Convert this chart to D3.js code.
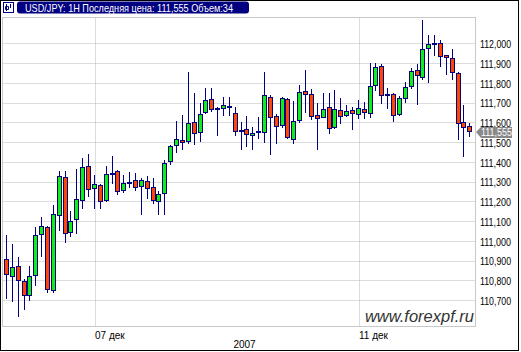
<!DOCTYPE html>
<html>
<head>
<meta charset="utf-8">
<script src="https://cdn.jsdelivr.net/npm/d3@7/dist/d3.min.js"></script>
<style>
  body { margin: 0; background: #fff; }
  svg { display: block; }
</style>
</head>
<body>
<div id="chart"></div>
<script>
// USD/JPY hourly candles (first one is cut by the left edge)
var opens = [110.844, 110.908, 110.823, 110.871, 110.795, 110.724, 110.825, 111.033, 111.068, 110.749,
  111.129, 111.322, 111.045, 111.109, 111.205, 111.377, 111.266, 111.281, 111.205, 111.340,
  111.353, 111.259, 111.294, 111.306, 111.276, 111.303, 111.271, 111.200, 111.241, 111.403,
  111.484, 111.510, 111.504, 111.600, 111.549, 111.652, 111.716, 111.673, 111.671, 111.676,
  111.647, 111.558, 111.565, 111.534, 111.551, 111.549, 111.730, 111.630, 111.585, 111.718,
  111.514, 111.610, 111.757, 111.745, 111.635, 111.627, 111.676, 111.575, 111.661, 111.635,
  111.661, 111.642, 111.666, 111.646, 111.787, 111.884, 111.743, 111.745, 111.641, 111.722,
  111.782, 111.863, 111.829, 111.975, 111.995, 112.000, 111.939, 111.924, 111.848, 111.600,
  111.580];
var highs = [110.953, 111.028, 110.984, 110.918, 110.805, 110.872, 111.068, 111.121, 111.077, 111.183,
  111.353, 111.353, 111.151, 111.362, 111.418, 111.438, 111.333, 111.288, 111.379, 111.429,
  111.356, 111.332, 111.347, 111.343, 111.316, 111.327, 111.318, 111.252, 111.409, 111.484,
  111.607, 111.637, 111.855, 111.748, 111.699, 111.772, 111.772, 111.676, 111.728, 111.728,
  111.678, 111.602, 111.630, 111.576, 111.627, 111.855, 111.738, 111.641, 111.728, 111.723,
  111.708, 111.789, 111.865, 111.769, 111.696, 111.747, 111.747, 111.762, 111.722, 111.686,
  111.676, 111.711, 111.701, 111.899, 111.899, 111.894, 111.772, 111.750, 111.732, 111.803,
  111.876, 111.894, 112.118, 112.041, 112.041, 112.015, 111.941, 111.970, 111.853, 111.689,
  111.595];
var lows = [110.802, 110.712, 110.697, 110.621, 110.656, 110.700, 110.778, 110.923, 110.739, 110.739,
  111.055, 110.996, 111.026, 111.038, 111.168, 111.228, 111.168, 111.168, 111.200, 111.294,
  111.239, 111.249, 111.272, 111.259, 111.136, 111.217, 111.190, 111.137, 111.136, 111.390,
  111.448, 111.465, 111.494, 111.492, 111.507, 111.646, 111.657, 111.536, 111.635, 111.635,
  111.537, 111.465, 111.482, 111.466, 111.522, 111.502, 111.441, 111.497, 111.575, 111.521,
  111.497, 111.603, 111.654, 111.618, 111.466, 111.625, 111.547, 111.573, 111.598, 111.633,
  111.565, 111.620, 111.622, 111.625, 111.762, 111.696, 111.671, 111.608, 111.637, 111.704,
  111.772, 111.694, 111.819, 111.806, 111.941, 111.884, 111.846, 111.821, 111.514, 111.431,
  111.531];
var closes = [110.917, 110.830, 110.866, 110.800, 110.724, 110.820, 111.028, 111.073, 110.755, 111.134,
  111.327, 111.040, 111.099, 111.210, 111.372, 111.261, 111.286, 111.200, 111.337, 111.345,
  111.254, 111.291, 111.299, 111.271, 111.306, 111.266, 111.207, 111.235, 111.392, 111.479,
  111.514, 111.499, 111.596, 111.544, 111.641, 111.711, 111.666, 111.670, 111.686, 111.681,
  111.554, 111.563, 111.539, 111.544, 111.556, 111.737, 111.625, 111.580, 111.722, 111.524,
  111.605, 111.752, 111.742, 111.630, 111.620, 111.666, 111.570, 111.666, 111.632, 111.657,
  111.646, 111.671, 111.651, 111.782, 111.878, 111.737, 111.738, 111.637, 111.725, 111.777,
  111.858, 111.838, 111.970, 111.995, 112.000, 111.934, 111.929, 111.853, 111.595, 111.575,
  111.555];

var yTicks = [110.7, 110.8, 110.9, 111.0, 111.1, 111.2, 111.3, 111.4, 111.5, 111.6, 111.7, 111.8, 111.9, 112.0];
var dayLabels = ["07 дек", "11 дек"];
var dayCandles = [16, 61];
var yearLabel = "2007";
var title = "USD/JPY: 1H Последняя цена: 111,555 Объем:34";
var lastPrice = 111.555;
var watermark = "www.forexpf.ru";

var W = 521, H = 352;
var plot = {left: 2.5, top: 17.5, right: 475.5, bottom: 326.5};
var GREEN = "#11ee11", RED = "#ff4500", NAVY = "#000080";

var svg = d3.select("#chart").append("svg")
    .attr("width", W)
    .attr("height", H)
    .style("font-family", "'Liberation Sans', Arial, sans-serif");

// outer black frame
svg.append("rect")
    .attr("x", 0.5).attr("y", 0.5)
    .attr("width", 518).attr("height", 350)
    .attr("fill", "#fff").attr("stroke", "#000");

var x = d3.scaleLinear().domain([0, opens.length - 1]).range([0.1, 469.3]);
var y = d3.scaleLinear().domain([110.7, 112.0]).range([300.05, 43.3]);

svg.append("clipPath").attr("id", "clip")
  .append("rect")
    .attr("x", plot.left + 0.5).attr("y", plot.top + 0.5)
    .attr("width", plot.right - plot.left - 1).attr("height", plot.bottom - plot.top - 1);

// grid
var grid = svg.append("g").attr("stroke", "#b8b8b8").attr("stroke-dasharray", "1,1");
grid.selectAll("line.h")
  .data(yTicks)
  .enter().append("line")
    .attr("x1", plot.left + 1).attr("x2", plot.right)
    .attr("y1", function(d) { return Math.round(y(d)) + 0.5; })
    .attr("y2", function(d) { return Math.round(y(d)) + 0.5; });
grid.selectAll("line.v")
  .data(dayCandles)
  .enter().append("line")
    .attr("y1", plot.top + 1).attr("y2", plot.bottom)
    .attr("x1", function(d) { return Math.round(x(d)) + 1.5; })
    .attr("x2", function(d) { return Math.round(x(d)) + 1.5; });

// plot frame
svg.append("rect")
    .attr("x", plot.left).attr("y", plot.top)
    .attr("width", plot.right - plot.left).attr("height", plot.bottom - plot.top)
    .attr("fill", "none").attr("stroke", "#c8c8c8");

// candles
var candles = svg.append("g").attr("clip-path", "url(#clip)")
  .selectAll("g")
  .data(opens.map(function(o, i) { return {i: i, o: o, h: highs[i], l: lows[i], c: closes[i]}; }))
  .enter().append("g");

candles.append("line")
    .attr("x1", function(d) { return Math.round(x(d.i)) + 0.5; })
    .attr("x2", function(d) { return Math.round(x(d.i)) + 0.5; })
    .attr("y1", function(d) { return Math.round(y(d.h)); })
    .attr("y2", function(d) { return Math.round(y(d.l)) + 1; })
    .attr("stroke", NAVY);

candles.append("rect")
    .attr("x", function(d) { return Math.round(x(d.i)) - 1.5; })
    .attr("y", function(d) { return Math.round(y(Math.max(d.o, d.c))) + 0.5; })
    .attr("width", 4)
    .attr("height", function(d) {
      var h = Math.round(y(Math.min(d.o, d.c))) - Math.round(y(Math.max(d.o, d.c)));
      return Math.max(h, 1);
    })
    .attr("fill", function(d) { return d.c >= d.o ? GREEN : RED; })
    .attr("stroke", NAVY);

// y axis on the right
var fmt = function(d) { return d3.format(".3f")(d).replace(".", ","); };
var yAxis = svg.append("g")
    .attr("transform", "translate(477,1)")
    .call(d3.axisRight(y).tickValues(yTicks).tickSize(0).tickPadding(3).tickFormat(fmt));
yAxis.select(".domain").remove();
yAxis.selectAll("text")
    .attr("fill", "#000")
    .attr("font-size", "10px")
    .attr("font-family", "'Liberation Sans', Arial, sans-serif")
    .attr("textLength", 31)
    .attr("lengthAdjust", "spacingAndGlyphs");

// last price tag
var ty = Math.round(y(lastPrice)) + 1;
svg.append("path")
    .attr("d", "M476," + ty + "L481," + (ty - 5) + "L512," + (ty - 5) + "L512," + (ty + 6) + "L481," + (ty + 6) + "Z")
    .attr("fill", "#888");
svg.append("text")
    .attr("x", 481).attr("y", ty + 4)
    .attr("fill", "#fff")
    .attr("font-size", "10px")
    .attr("textLength", 31)
    .attr("lengthAdjust", "spacingAndGlyphs")
    .text(fmt(lastPrice));

// x labels
svg.selectAll("text.day")
  .data(dayCandles)
  .enter().append("text")
    .attr("x", function(d) { return Math.round(x(d)) + 1; })
    .attr("y", 338.5)
    .attr("font-size", "10px")
    .attr("fill", "#000")
    .text(function(d, i) { return dayLabels[i]; });
svg.append("text")
    .attr("x", 244.5).attr("y", 347.5)
    .attr("text-anchor", "middle")
    .attr("font-size", "10px")
    .attr("fill", "#000")
    .text(yearLabel);

// watermark
svg.append("text")
    .attr("x", 474).attr("y", 321.5)
    .attr("text-anchor", "end")
    .attr("font-size", "16.5px")
    .attr("font-style", "italic")
    .attr("fill", "#333")
    .text(watermark);

// title bar
svg.append("rect")
    .attr("x", 3.5).attr("y", 2.5)
    .attr("width", 10).attr("height", 10)
    .attr("fill", "#fff").attr("stroke", NAVY);
svg.append("path")
    .attr("d", "M6.5,4V11M5.5,6.5H8.5V9.5H5.5ZM10.5,4V8")
    .attr("fill", "none").attr("stroke", NAVY);
svg.append("rect")
    .attr("x", 17).attr("y", 1.5)
    .attr("width", 232).attr("height", 12)
    .attr("rx", 3)
    .attr("fill", NAVY);
svg.append("text")
    .attr("x", 25).attr("y", 11.5)
    .attr("fill", "#fff")
    .attr("font-size", "11px")
    .attr("textLength", 208)
    .attr("lengthAdjust", "spacingAndGlyphs")
    .text(title);
</script>
</body>
</html>
